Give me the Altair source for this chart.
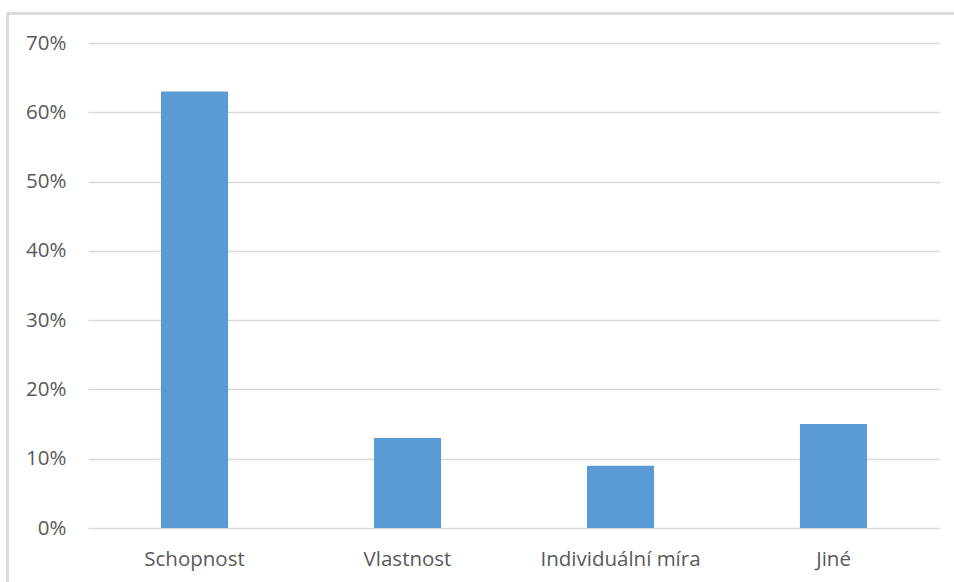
import altair as alt
import pandas as pd

categories = ["Schopnost", "Vlastnost", "Individuální míra", "Jiné"]
shares = [0.63, 0.13, 0.09, 0.15]

df = pd.DataFrame({"kategorie": categories, "podil": shares})

FONT = "Open Sans"
TEXT = "#595959"
GRID = "#D9D9D9"
FS = 20.5

bars = alt.Chart(df).mark_bar(color="#5B9BD5").encode(
    x=alt.X(
        "kategorie:N",
        sort=categories,
        title=None,
        scale=alt.Scale(paddingInner=0.685, paddingOuter=0.3425),
        axis=alt.Axis(
            labelAngle=0,
            labelFont=FONT,
            labelFontSize=FS,
            labelColor=TEXT,
            labelPadding=21,
            ticks=False,
            domain=False,
            grid=False,
        ),
    ),
    y=alt.Y(
        "podil:Q",
        title=None,
        scale=alt.Scale(domain=[0, 0.7], nice=False),
        axis=alt.Axis(
            format=".0%",
            values=[0, 0.1, 0.2, 0.3, 0.4, 0.5, 0.6, 0.7],
            labelFont=FONT,
            labelFontSize=FS,
            labelColor=TEXT,
            labelPadding=22,
            ticks=False,
            domain=False,
            grid=True,
            gridColor=GRID,
            gridWidth=1.5,
        ),
    ),
)

# outer frame of the chart (left and top edges)
frame_left = alt.Chart(df).mark_rule(color=GRID, strokeWidth=2).encode(
    x=alt.value(-80.5), y=alt.value(-30), y2=alt.value(560)
)
frame_top = alt.Chart(df).mark_rule(color=GRID, strokeWidth=2).encode(
    x=alt.value(-81), x2=alt.value(900), y=alt.value(-29.5)
)

chart = (
    alt.layer(frame_left, frame_top, bars)
    .properties(
        width=852,
        height=485,
        autosize=alt.AutoSizeParams(type="none"),
        padding={"left": 88, "top": 43, "right": 14, "bottom": 54},
        background="white",
    )
    .configure_view(stroke=None)
)

chart.save("out.html", embed_options={"renderer": "svg", "actions": False})
